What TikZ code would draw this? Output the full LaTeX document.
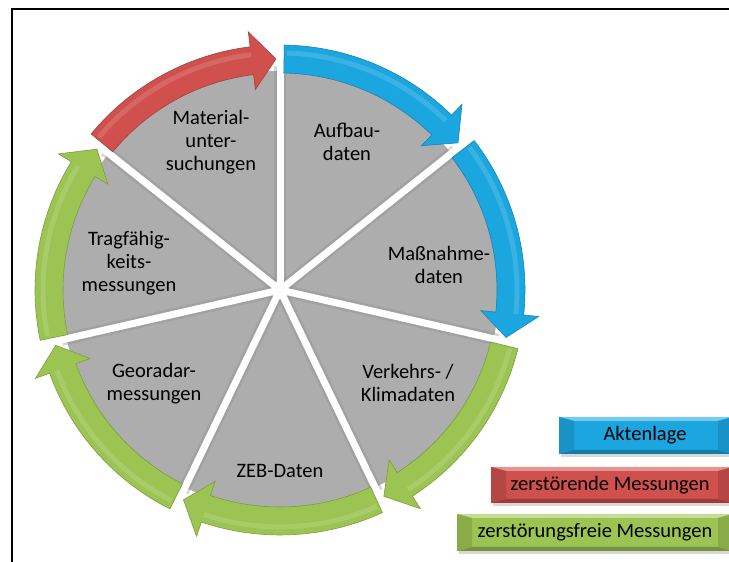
\documentclass[tikz,border=0pt]{standalone}
\usepackage{fontspec}
\setmainfont{Carlito}
\definecolor{cblue}{HTML}{1CA6E0}
\definecolor{cred}{HTML}{CF504C}
\definecolor{cgreen}{HTML}{9CC453}
\definecolor{cgray}{HTML}{ADADAD}
\tikzset{
  lbl/.style={font=\fontsize{20.5}{23}\selectfont, align=center, text=black, inner sep=0pt},
  legtext/.style={font=\fontsize{20.5}{23}\selectfont, text=black, inner sep=0pt},
}
\newcommand{\legbox}[5]{%
  % #1 x0, #2 y0, #3 x1, #4 y1, #5 colour
  \fill[black!30, opacity=0.5] (#1+2,#2-3) rectangle (#3+2,#4-3);
  \fill[#5] (#1,#2) rectangle (#3,#4);
  \fill[#5!60!white] (#1,#4) -- (#3,#4) -- (#3-15,#4-4) -- (#1+15,#4-4) -- cycle;
  \fill[#5!75!black] (#1,#2) -- (#3,#2) -- (#3-15,#2+4) -- (#1+15,#2+4) -- cycle;
  \fill[#5!88!black] (#1,#2) -- (#1,#4) -- (#1+15,#4-4) -- (#1+15,#2+4) -- cycle;
  \fill[#5!88!black] (#3,#2) -- (#3,#4) -- (#3-15,#4-4) -- (#3-15,#2+4) -- cycle;
}
\begin{document}
\begin{tikzpicture}[x=1pt,y=1pt]
\useasboundingbox (0,0) rectangle (729,562);
\clip (0,0) rectangle (729,562);
\fill[white] (0,0) rectangle (729,562);
% frame
\draw[line width=2pt, black] (12,-20) rectangle (760,553);

\begin{scope}[shift={(280,272)}]
  % gray disk
  \fill[cgray] (0,0) circle[radius=219pt];
  % gaps with soft dark edge
  \foreach \k in {0,...,6} {
    \pgfmathsetmacro\ang{90-\k*360/7}
    \draw[black!45, opacity=0.35, line width=12pt] (0,0) -- (\ang:224pt);
  }
  \foreach \k in {0,...,6} {
    \pgfmathsetmacro\ang{90-\k*360/7}
    \draw[white, line width=7pt] (0,0) -- (\ang:226pt);
  }
  \fill[white] (0,0) circle[radius=9pt];
  % arrows
  \foreach \k/\col in {0/cblue,1/cblue,2/cgreen,3/cgreen,4/cgreen,5/cgreen,6/cred} {
    \pgfmathsetmacro\sa{90-\k*360/7-1}
    \pgfmathsetmacro\ea{90-(\k+1)*360/7+1}
    \pgfmathsetmacro\ha{\ea+6}
    \fill[\col, draw=\col!80!black, line width=0.6pt]
      (\sa:245pt) arc[start angle=\sa, end angle=\ha, radius=245pt]
      -- (\ha:260pt) -- (\ea:231pt) -- (\ha:202pt) -- (\ha:217pt)
      arc[start angle=\ha, end angle=\sa, radius=217pt] -- cycle;
    \draw[\col!70!white, line width=5pt, opacity=0.45]
      (\sa-0.6:237pt) arc[start angle=\sa-0.6, end angle=\ha, radius=237pt];
  }
\end{scope}

% sector labels
\node[lbl] (aufbau) at (347,420.5) {Aufbau-\\daten};
\node[lbl] (massnahme) at (439,297.5) {Maßnahme-\\daten};
\node[lbl] (verkehr) at (408,179) {Verkehrs- /\\Klimadaten};
\node[lbl] (zeb) at (280,91) {ZEB-Daten};
\node[lbl] (georadar) at (154,178) {Georadar-\\messungen};
\node[lbl] (trag) at (129,299) {Tragfähig-\\keits-\\messungen};
\node[lbl] (material) at (211,420) {Material-\\unter-\\suchungen};

% legend
\legbox{559}{108}{733}{145}{cblue}
\node[legtext] (leg1) at (645,126.5) {Aktenlage};
\legbox{491}{59}{733}{95}{cred}
\node[legtext] (leg2) at (610,77) {zerstörende Messungen};
\legbox{457}{11}{733}{48}{cgreen}
\node[legtext] (leg3) at (595,29.5) {zerstörungsfreie Messungen};
\end{tikzpicture}
\end{document}
